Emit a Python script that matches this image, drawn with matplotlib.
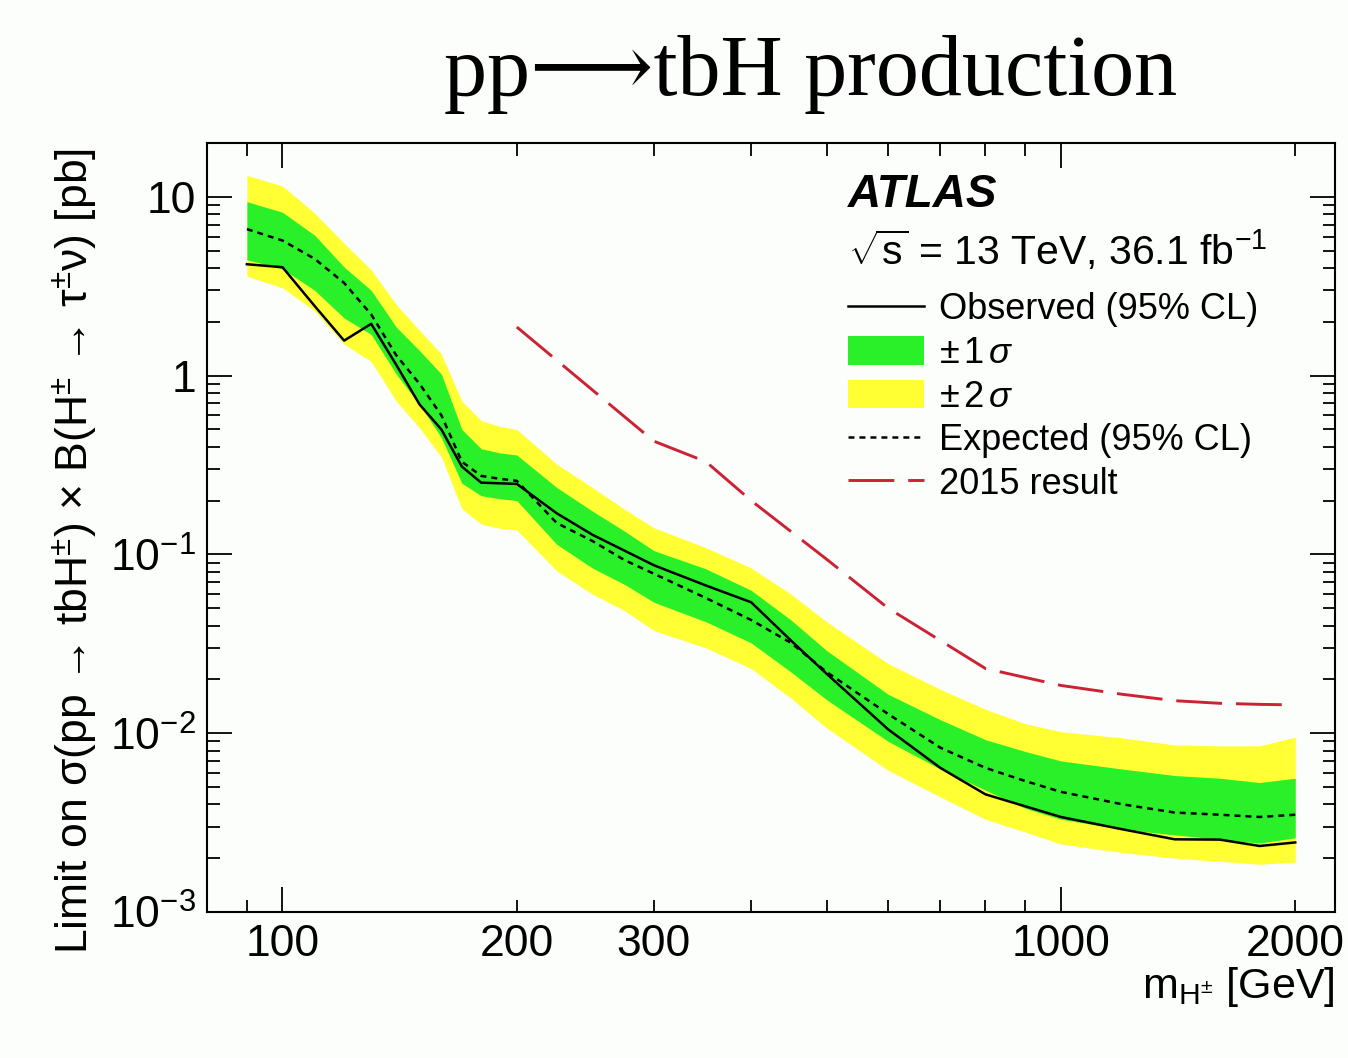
import matplotlib
matplotlib.use('Agg')
import matplotlib.pyplot as plt
from matplotlib.lines import Line2D
from matplotlib.patches import Patch
from matplotlib.ticker import FixedLocator, FixedFormatter, NullFormatter

# charged Higgs mass points [GeV]
mass = [90, 100, 110, 120, 130, 140, 150, 160, 170, 180, 190, 200, 225, 250, 275,
        300, 350, 400, 450, 500, 600, 700, 800, 900, 1000, 1200, 1400, 1600, 1800, 2000]

# 95% CL limits [pb]
observed = [4.2, 4.04, 2.45, 1.57, 1.95, 1.15, 0.69, 0.50, 0.31, 0.252, 0.25, 0.248, 0.17, 0.129, 0.105,
            0.087, 0.067, 0.054, 0.033, 0.0215, 0.0105, 0.0064, 0.00455, 0.0039, 0.0034, 0.0029,
            0.00255, 0.00254, 0.00234, 0.00245]
expected = [6.6, 5.7, 4.5, 3.3, 2.2, 1.3, 0.90, 0.60, 0.33, 0.275, 0.265, 0.258, 0.150, 0.119, 0.093,
            0.078, 0.057, 0.043, 0.032, 0.022, 0.0128, 0.0083, 0.0064, 0.0054, 0.0047, 0.0040,
            0.0036, 0.0035, 0.0034, 0.0035]
plus_2sigma = [13.2, 11.5, 8.1, 5.5, 3.9, 2.5, 1.79, 1.32, 0.72, 0.56, 0.52, 0.50, 0.32, 0.237, 0.179,
               0.141, 0.109, 0.084, 0.060, 0.042, 0.0245, 0.0176, 0.0136, 0.0113, 0.0102, 0.0094,
               0.0086, 0.0085, 0.0085, 0.0095]
plus_1sigma = [9.4, 8.2, 6.1, 4.05, 3.0, 1.87, 1.38, 1.02, 0.50, 0.39, 0.37, 0.36, 0.237, 0.175, 0.135,
               0.105, 0.083, 0.063, 0.043, 0.029, 0.0165, 0.0119, 0.0092, 0.0079, 0.0070, 0.0063,
               0.0058, 0.0056, 0.0053, 0.0056]
minus_1sigma = [4.45, 3.95, 3.0, 2.1, 1.7, 1.02, 0.69, 0.45, 0.25, 0.213, 0.205, 0.20, 0.114, 0.084, 0.068,
                0.054, 0.042, 0.032, 0.022, 0.0154, 0.0090, 0.0063, 0.0048, 0.0038, 0.0033, 0.0029,
                0.0027, 0.00255, 0.00243, 0.0026]
minus_2sigma = [3.6, 3.1, 2.3, 1.5, 1.2, 0.72, 0.51, 0.35, 0.18, 0.148, 0.14, 0.137, 0.081, 0.060, 0.0485,
                0.0375, 0.030, 0.023, 0.0157, 0.0107, 0.0062, 0.0044, 0.0033, 0.0028, 0.0024, 0.00215,
                0.0020, 0.00192, 0.00185, 0.0019]

# previous (2015) observed limit
mass_2015 = [200, 300, 350, 400, 500, 600, 700, 800, 900, 1000, 1200, 1400, 1600, 1800, 2000]
limit_2015 = [1.87, 0.43, 0.33, 0.20, 0.094, 0.050, 0.033, 0.023, 0.0205, 0.0185, 0.0165,
              0.0152, 0.0147, 0.0145, 0.0144]

x_labels = {100: '100', 200: '200', 300: '300', 1000: '1000', 2000: '2000'}
y_major = [1e-3, 1e-2, 1e-1, 1, 10]
y_labels = ['$10^{-3}$', '$10^{-2}$', '$10^{-1}$', '1', '10']

GREEN = '#2af02a'
YELLOW = '#ffff33'
RED = '#cc2233'

plt.rcParams['font.family'] = ['Liberation Sans', 'DejaVu Sans']
plt.rcParams['mathtext.fontset'] = 'custom'
plt.rcParams['mathtext.rm'] = 'Liberation Sans'
plt.rcParams['mathtext.it'] = 'Liberation Sans:italic'
plt.rcParams['mathtext.bf'] = 'Liberation Sans:bold'
plt.rcParams['lines.scale_dashes'] = False

fig = plt.figure(figsize=(13.48, 10.58), dpi=100, facecolor='#fcfefc')
ax = fig.add_axes([0.1536, 0.138, 0.8368, 0.7268])
ax.set_facecolor('#fcfefc')

ax.fill_between(mass, minus_2sigma, plus_2sigma, color=YELLOW, lw=0, zorder=1)
ax.fill_between(mass, minus_1sigma, plus_1sigma, color=GREEN, lw=0, zorder=2)
ax.plot(mass, expected, color='black', lw=1.8, dashes=(4.3, 3.6), zorder=3)
ax.plot(mass, observed, color='black', lw=1.8, zorder=4)
ax.plot(mass_2015, limit_2015, color=RED, lw=2.1, dashes=(33, 10), zorder=3)

ax.set_xscale('log')
ax.set_yscale('log')
ax.set_xlim(80, 2250)
ax.set_ylim(1e-3, 20)

# x ticks: long at 100 and 1000, short elsewhere
ax.xaxis.set_major_locator(FixedLocator([100, 1000]))
minor_x = [90, 200, 300, 400, 500, 600, 700, 800, 900, 2000]
ax.xaxis.set_minor_locator(FixedLocator(minor_x))
ax.xaxis.set_major_formatter(FixedFormatter([x_labels[100], x_labels[1000]]))
ax.xaxis.set_minor_formatter(FixedFormatter([x_labels.get(m, '') for m in minor_x]))

ax.yaxis.set_major_locator(FixedLocator(y_major))
ax.yaxis.set_major_formatter(FixedFormatter(y_labels))
minor_y = [k * 10.0 ** e for e in range(-3, 2) for k in range(2, 10)]
ax.yaxis.set_minor_locator(FixedLocator(minor_y))
ax.yaxis.set_minor_formatter(NullFormatter())

ax.tick_params(which='both', direction='in', top=True, right=True, width=1.3, colors='black')
ax.tick_params(which='major', length=18)
ax.tick_params(which='minor', length=9)
ax.tick_params(axis='x', which='both', labelsize=32, pad=9)
ax.tick_params(axis='y', which='both', labelsize=32, pad=8)
for sp in ax.spines.values():
    sp.set_linewidth(1.5)

ax.set_xlabel(r'm$_{\mathrm{H}^{\pm}}$ [GeV]', fontsize=31, loc='right', labelpad=0)
ax.set_ylabel('Limit on σ(pp → tbH$^{\\pm}$) × B(H$^{\\pm}$ → τ$^{\\pm}$ν) [pb]',
              fontsize=32)
ax.yaxis.set_label_coords(-0.095, 0.47)

ax.text(0.568, 0.917, 'ATLAS', transform=ax.transAxes, fontsize=33,
        fontweight='bold', fontstyle='italic')
ax.text(0.568, 0.841, r'$\sqrt{\mathrm{s}}$ = 13 TeV, 36.1 fb$^{-1}$',
        transform=ax.transAxes, fontsize=29.5)

handles = [
    Line2D([], [], color='black', lw=1.8),
    Patch(facecolor=GREEN, lw=0),
    Patch(facecolor=YELLOW, lw=0),
    Line2D([], [], color='black', lw=1.8, dashes=(4.3, 3.6)),
    Line2D([], [], color=RED, lw=2.1, dashes=(33, 10)),
]
labels = ['Observed (95% CL)', r'$\pm\,1\,\sigma$', r'$\pm\,2\,\sigma$',
          'Expected (95% CL)', '2015 result']
ax.legend(handles, labels, loc='upper left', bbox_to_anchor=(0.568, 0.806),
          frameon=False, fontsize=26, handlelength=2.1, handleheight=0.85,
          handletextpad=0.42, labelspacing=0.24, borderpad=0, borderaxespad=0)

fig.text(0.601, 0.910, 'pp⟶tbH production', ha='center', va='baseline',
         fontsize=62, family=['Liberation Serif', 'DejaVu Serif', 'DejaVu Sans'])

fig.savefig('out.png', dpi=100, facecolor=fig.get_facecolor())
